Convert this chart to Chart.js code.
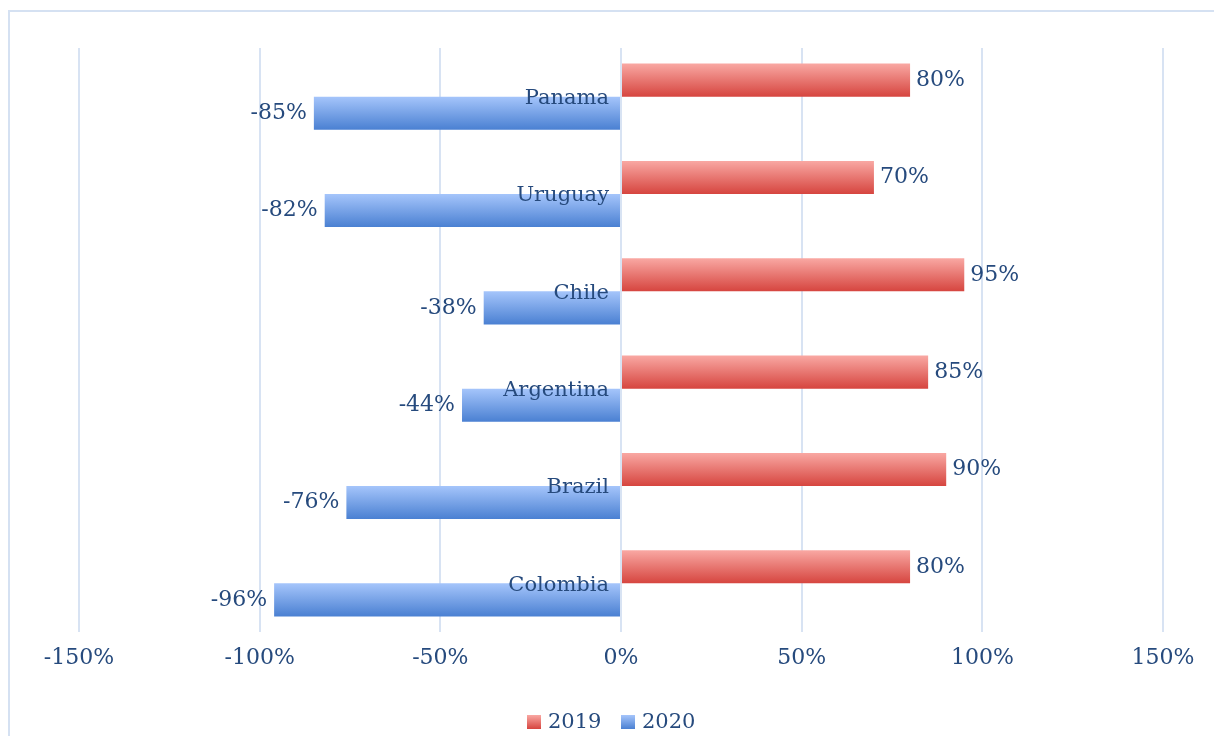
<!DOCTYPE html>
<html>
<head>
<meta charset="utf-8">
<script src="https://cdn.jsdelivr.net/npm/chart.js@4.4.0/dist/chart.umd.min.js"></script>
<style>
  html, body { margin: 0; padding: 0; background: #ffffff; }
  #chart { display: block; }
</style>
</head>
<body>
<canvas id="chart" width="1214" height="736"></canvas>
<script>
// countries, listed top to bottom as in the picture
const countries = ['Panama', 'Uruguay', 'Chile', 'Argentina', 'Brazil', 'Colombia'];
const values2019 = [80, 70, 95, 85, 90, 80];
const values2020 = [-85, -82, -38, -44, -76, -96];
const seriesNames = ['2019', '2020'];
const xTicks = [-150, -100, -50, 0, 50, 100, 150];

const textColor = '#264a7d';
const gridColor = '#d8e3f3';
const fontFamily = "'DejaVu Serif', 'Liberation Serif', serif";

const redStops = ['#f9a8a3', '#d6453f'];
const blueStops = ['#a5c5fb', '#4a80d2'];

const catPct = 0.68;

function barGradient(c, stops) {
    const chart = c.chart;
    const area = chart.chartArea;
    if (!area) return stops[1];
    const h = area.height / countries.length;
    const center = area.top + (c.dataIndex + 0.5) * h;
    const half = h * catPct / 2;
    const top = c.datasetIndex === 0 ? center - half : center;
    const g = chart.ctx.createLinearGradient(0, top, 0, top + half);
    g.addColorStop(0, stops[0]);
    g.addColorStop(1, stops[1]);
    return g;
}

const framePlugin = {
    id: 'frame',
    beforeDraw(chart) {
        const ctx = chart.ctx;
        ctx.save();
        ctx.fillStyle = '#ffffff';
        ctx.fillRect(0, 0, chart.width, chart.height);
        ctx.strokeStyle = '#d5e1f2';
        ctx.lineWidth = 2;
        ctx.beginPath();
        ctx.moveTo(9, chart.height + 5);
        ctx.lineTo(9, 11);
        ctx.lineTo(chart.width + 5, 11);
        ctx.stroke();
        ctx.restore();
    }
};

const labelsPlugin = {
    id: 'barLabels',
    afterDatasetsDraw(chart) {
        const ctx = chart.ctx;
        const x = chart.scales.x;
        const y = chart.scales.y;
        const zero = x.getPixelForValue(0);
        ctx.save();
        ctx.fillStyle = textColor;
        ctx.textBaseline = 'middle';
        // category names next to the zero line
        ctx.font = '21px ' + fontFamily;
        ctx.textAlign = 'right';
        countries.forEach((name, i) => {
            ctx.fillText(name, zero - 12, y.getPixelForValue(i) + 2);
        });
        // value labels at the bar ends
        ctx.font = '22px ' + fontFamily;
        chart.data.datasets.forEach((ds, di) => {
            chart.getDatasetMeta(di).data.forEach((bar, i) => {
                const v = ds.data[i];
                if (v >= 0) {
                    ctx.textAlign = 'left';
                    ctx.fillText(v + '%', bar.x + 6, bar.y);
                } else {
                    ctx.textAlign = 'right';
                    ctx.fillText(v + '%', bar.x - 7, bar.y);
                }
            });
        });
        // legend
        const legendY = 722;
        const items = [
            { text: seriesNames[0], x: 527, stops: redStops },
            { text: seriesNames[1], x: 621, stops: blueStops }
        ];
        ctx.font = '21px ' + fontFamily;
        ctx.textAlign = 'left';
        items.forEach(it => {
            const g = ctx.createLinearGradient(0, legendY - 7, 0, legendY + 7);
            g.addColorStop(0, it.stops[0]);
            g.addColorStop(1, it.stops[1]);
            ctx.fillStyle = g;
            ctx.fillRect(it.x, legendY - 7, 14, 14);
            ctx.fillStyle = textColor;
            ctx.fillText(it.text, it.x + 21, legendY + 1);
        });
        ctx.restore();
    }
};

new Chart(document.getElementById('chart'), {
    type: 'bar',
    data: {
        labels: countries,
        datasets: [{
            label: seriesNames[0],
            data: values2019,
            backgroundColor: c => barGradient(c, redStops),
            categoryPercentage: catPct,
            barPercentage: 1
        }, {
            label: seriesNames[1],
            data: values2020,
            backgroundColor: c => barGradient(c, blueStops),
            categoryPercentage: catPct,
            barPercentage: 1
        }]
    },
    options: {
        indexAxis: 'y',
        responsive: false,
        animation: false,
        layout: {
            padding: { top: 48, left: 79, right: 51, bottom: 54 }
        },
        scales: {
            x: {
                min: xTicks[0],
                max: xTicks[xTicks.length - 1],
                afterBuildTicks: scale => {
                    scale.ticks = xTicks.map(v => ({ value: v }));
                },
                afterFit: scale => {
                    scale.height = 50;
                },
                grid: { color: gridColor, lineWidth: 2, drawTicks: false },
                border: { display: false },
                ticks: {
                    color: textColor,
                    padding: 13,
                    font: { family: fontFamily, size: 22 },
                    callback: v => v + '%'
                }
            },
            y: {
                display: false
            }
        },
        plugins: {
            legend: { display: false },
            tooltip: { enabled: false }
        }
    },
    plugins: [framePlugin, labelsPlugin]
});
</script>
</body>
</html>
